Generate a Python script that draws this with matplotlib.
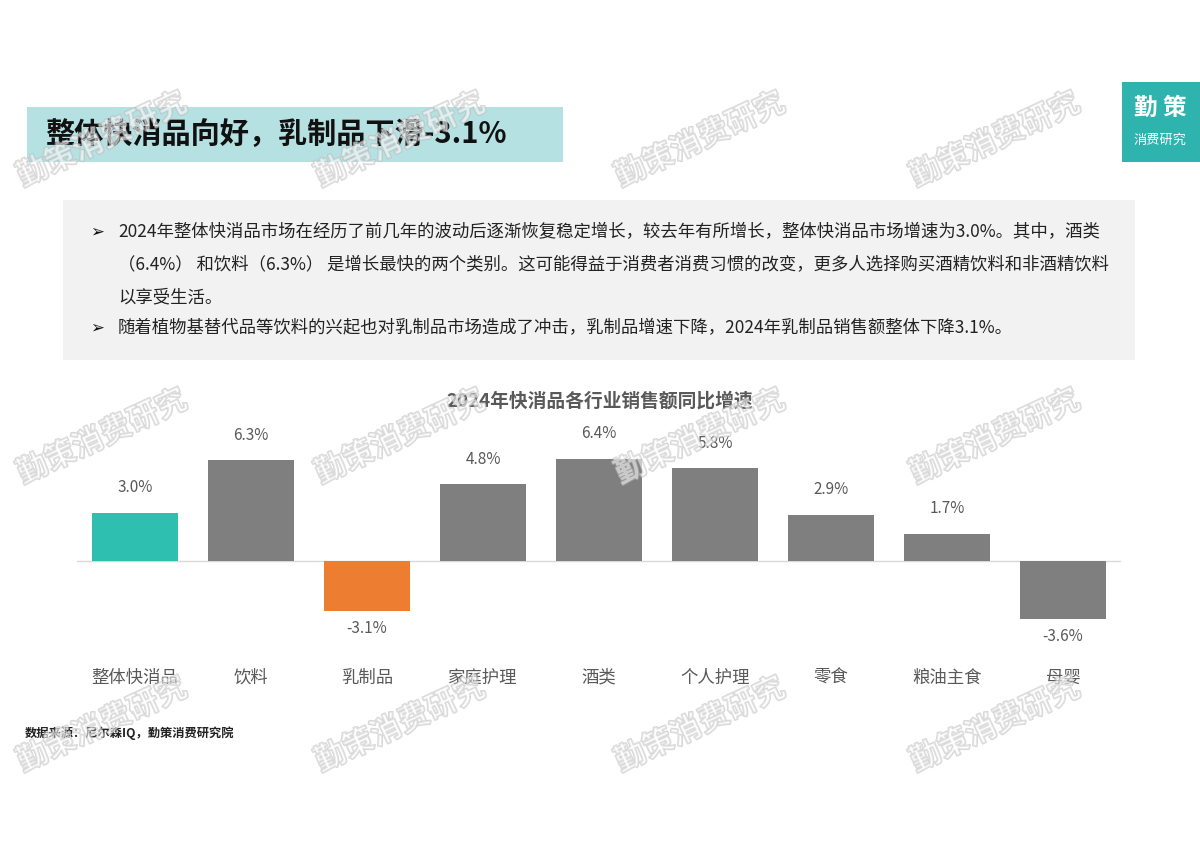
import matplotlib
matplotlib.use("Agg")
import matplotlib.pyplot as plt
import matplotlib.patheffects as pe
from matplotlib.patches import Rectangle
from matplotlib.transforms import blended_transform_factory

plt.rcParams['font.family'] = ['Noto Sans CJK SC', 'DejaVu Sans']

categories = ["整体快消品", "饮料", "乳制品", "家庭护理", "酒类", "个人护理", "零食", "粮油主食", "母婴"]
growth = [3.0, 6.3, -3.1, 4.8, 6.4, 5.8, 2.9, 1.7, -3.6]
bar_colors = ["#2ebfb0", "#7f7f7f", "#ed7d31", "#7f7f7f", "#7f7f7f", "#7f7f7f", "#7f7f7f", "#7f7f7f", "#7f7f7f"]

page_title = "整体快消品向好，乳制品下滑-3.1%"
chart_title = "2024年快消品各行业销售额同比增速"
bullet_lines = [
    ("➢", "2024年整体快消品市场在经历了前几年的波动后逐渐恢复稳定增长，较去年有所增长，整体快消品市场增速为3.0%。其中，酒类"),
    ("", "（6.4%） 和饮料（6.3%） 是增长最快的两个类别。这可能得益于消费者消费习惯的改变，更多人选择购买酒精饮料和非酒精饮料"),
    ("", "以享受生活。"),
    ("➢", "随着植物基替代品等饮料的兴起也对乳制品市场造成了冲击，乳制品增速下降，2024年乳制品销售额整体下降3.1%。"),
]
source_text = "数据来源：尼尔森IQ，勤策消费研究院"
watermark = "勤策消费研究"

W, H = 1200, 849
fig = plt.figure(figsize=(W / 100, H / 100), dpi=100)
fig.patch.set_facecolor("white")

def fx(x):
    return x / W

def fy(y):
    return 1 - y / H

# header banner
fig.patches.append(Rectangle((fx(27), fy(162)), fx(536), 55 / H, transform=fig.transFigure,
                             facecolor="#b6e1e3", edgecolor="none", zorder=0))
fig.text(fx(45), fy(134), page_title, fontsize=21, fontweight="bold", color="#111111",
         va="center", ha="left")

# logo box
fig.patches.append(Rectangle((fx(1122), fy(162)), fx(78), 80 / H, transform=fig.transFigure,
                             facecolor="#2fb3ae", edgecolor="none", zorder=0))
fig.text(fx(1160), fy(108), "勤 策", fontsize=17, fontweight="bold", color="white", ha="center", va="center")
fig.text(fx(1160), fy(140), "消费研究", fontsize=9.5, color="white", ha="center", va="center")

# bullet box
fig.patches.append(Rectangle((fx(63), fy(360)), fx(1072), 160 / H, transform=fig.transFigure,
                             facecolor="#f2f2f2", edgecolor="none", zorder=0))
line_y = [232, 265, 297, 328]
for (b, t), y in zip(bullet_lines, line_y):
    if b:
        fig.text(fx(97), fy(y), b, fontsize=12, color="#111111", ha="center", va="center",
                 family=["DejaVu Sans"])
    fig.text(fx(118), fy(y), t, fontsize=12.5, color="#222222", ha="left", va="center")

# chart
ax = fig.add_axes([fx(77), (H - 649) / H, fx(1044), 216 / H])
ax.set_facecolor("none")
x = list(range(len(categories)))
ax.bar(x, growth, width=0.74, color=bar_colors, zorder=2)
ax.axhline(0, color="#d9d9d9", linewidth=1, zorder=1)
ax.set_xlim(-0.5, len(categories) - 0.5)
ax.set_ylim(-5.5, 8)
for s in ax.spines.values():
    s.set_visible(False)
ax.set_xticks([])
ax.set_yticks([])
for xi, v in zip(x, growth):
    if v >= 0:
        ax.annotate(f"{v:.1f}%", (xi, v), xytext=(0, 12), textcoords="offset points",
                    ha="center", va="bottom", fontsize=11, color="#595959")
    else:
        ax.annotate(f"{v:.1f}%", (xi, v), xytext=(0, -7), textcoords="offset points",
                    ha="center", va="top", fontsize=11, color="#595959")
tr = blended_transform_factory(ax.transData, fig.transFigure)
for xi, c in zip(x, categories):
    ax.text(xi, fy(678), c, transform=tr, ha="center", va="center", fontsize=12.5, color="#595959")
fig.text(0.5, fy(401), chart_title, ha="center", va="center", fontsize=13.5, color="#595959",
         fontweight="bold")

fig.text(fx(25), fy(733), source_text, fontsize=8.8, color="#222222", ha="left", va="center",
         fontweight="bold")

# watermarks
wm_x = [102, 400, 700, 995]
wm_y = [140, 437, 725]
for wy in wm_y:
    for wx in wm_x:
        fig.text(fx(wx), fy(wy), watermark, fontsize=22, fontweight="bold",
                 color=(1, 1, 1, 0.35), rotation=25, ha="center", va="center", zorder=10,
                 path_effects=[pe.withStroke(linewidth=1.4, foreground=(0.72, 0.72, 0.72, 0.55))])

fig.savefig("out.png", dpi=100, facecolor="white")
